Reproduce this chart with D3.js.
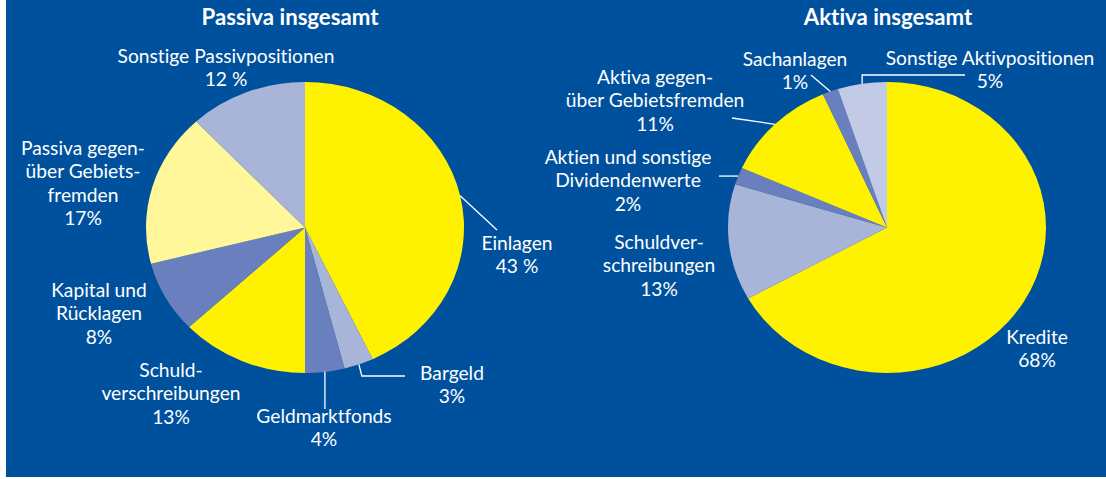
<!DOCTYPE html>
<html>
<head>
<meta charset="utf-8">
<script src="https://cdn.jsdelivr.net/npm/d3@7"></script>
<style>
  html, body { margin: 0; padding: 0; background: #fff; }
  svg { display: block; }
  text { font-family: Lato, "DejaVu Sans", sans-serif; fill: #fff; font-variant-ligatures: none; font-feature-settings: "liga" 0, "dlig" 0; }
</style>
</head>
<body>
<div id="chart"></div>
<script>
// Passiva insgesamt (shares clockwise from 12 o'clock)
const passivaCategories = ["Einlagen", "Bargeld", "Geldmarktfonds", "Schuldverschreibungen",
  "Kapital und Rücklagen", "Passiva gegenüber Gebietsfremden", "Sonstige Passivpositionen"];
const passivaShares = [43, 3, 4, 13, 8, 17, 12];
const passivaLabels = [
  ["Einlagen", "43 %"],
  ["Bargeld", "3%"],
  ["Geldmarktfonds", "4%"],
  ["Schuld-", "verschreibungen", "13%"],
  ["Kapital und", "Rücklagen", "8%"],
  ["Passiva gegen-", "über Gebiets-", "fremden", "17%"],
  ["Sonstige Passivpositionen", "12 %"]
];

// Aktiva insgesamt (shares)
const aktivaCategories = ["Kredite", "Schuldverschreibungen", "Aktien und sonstige Dividendenwerte",
  "Aktiva gegenüber Gebietsfremden", "Sachanlagen", "Sonstige Aktivpositionen"];
const aktivaShares = [66.9, 12.9, 1.9, 11.7, 1.6, 5.0];
const aktivaLabels = [
  ["Kredite", "68%"],
  ["Schuldver-", "schreibungen", "13%"],
  ["Aktien und sonstige", "Dividendenwerte", "2%"],
  ["Aktiva gegen-", "über Gebietsfremden", "11%"],
  ["Sachanlagen", "1%"],
  ["Sonstige Aktivpositionen", "5%"]
];

const titles = ["Passiva insgesamt", "Aktiva insgesamt"];

// styling
const yellow = "#fff200", paleYellow = "#fff799", lav = "#a9b4d9", mid = "#6a7fbd", lightLav = "#c3cae6";
const passivaColors = [yellow, lav, mid, yellow, mid, paleYellow, lav];
const aktivaColors = [yellow, lav, mid, yellow, mid, lightLav];

const W = 1106, H = 479;
const lineH = 23.3;

// label placement: [centre x, first baseline]; leader lines
const passivaLayout = [
  { at: [517, 250], leader: { type: "straight", to: [497, 230] } },
  { at: [452, 380], leader: { type: "elbow", y: 376, xEnd: 405 } },
  { at: [324, 423], leader: { type: "vertical", yEnd: 409 } },
  { at: [171, 377] },
  { at: [99, 297] },
  { at: [83, 155] },
  { at: [226, 63] }
];
const aktivaLayout = [
  { at: [1037, 344] },
  { at: [659, 249] },
  { at: [628, 164], leader: { type: "horizontal", xEnd: 719 } },
  { at: [655, 84], leader: { type: "straight", to: [732, 118] } },
  { at: [795, 66], leader: { type: "straight", to: [811, 75] } },
  { at: [990, 65], leader: { type: "elbow", y: 75, xEnd: 965 } }
];

const svg = d3.select("#chart").append("svg")
  .attr("width", W).attr("height", H);

svg.append("rect")
  .attr("x", 6).attr("y", 0)
  .attr("width", W - 6).attr("height", 477)
  .attr("fill", "#00519d");

// calibrate font size so the text width matches the reference
const probe = svg.append("text").attr("font-size", 100).text("Sonstige Passivpositionen");
const fs = 100 * 217 / probe.node().getComputedTextLength();
probe.attr("font-weight", "bold").text("Passiva insgesamt");
const tfs = 100 * 177 / probe.node().getComputedTextLength();
probe.remove();

const ry = 145.5, rx = 159;

function drawPie(cx, cy, shares, colors, labels, layout, title, titleX) {
  const g = svg.append("g");
  const pie = d3.pie().sort(null).value(d => d)(shares);
  const arc = d3.arc().innerRadius(0).outerRadius(ry);

  g.append("g")
    .attr("transform", `translate(${cx},${cy}) scale(${rx / ry},1)`)
    .selectAll("path").data(pie).enter()
    .append("path")
    .attr("d", arc)
    .attr("fill", (d, i) => colors[i]);

  g.append("text")
    .attr("x", titleX).attr("y", 25)
    .attr("text-anchor", "middle")
    .attr("font-weight", "bold")
    .attr("font-size", tfs)
    .text(title);

  pie.forEach((d, i) => {
    const lay = layout[i];
    const t = g.append("text")
      .attr("text-anchor", "middle")
      .attr("font-size", fs);
    labels[i].forEach((line, k) => {
      t.append("tspan")
        .attr("x", lay.at[0])
        .attr("y", lay.at[1] + k * lineH)
        .text(line);
    });

    if (lay.leader) {
      const a = (d.startAngle + d.endAngle) / 2;
      const sx = cx + Math.sin(a) * rx, sy = cy - Math.cos(a) * ry;
      const L = lay.leader;
      let pts;
      if (L.type === "straight") pts = [[sx, sy], L.to];
      else if (L.type === "vertical") pts = [[sx, sy], [sx, L.yEnd]];
      else if (L.type === "horizontal") pts = [[sx, sy], [L.xEnd, sy]];
      else pts = [[sx, sy], [sx + (L.y > sy ? 3 : 0), L.y], [L.xEnd, L.y]];
      g.append("path")
        .attr("d", d3.line()(pts))
        .attr("fill", "none")
        .attr("stroke", "#fff")
        .attr("stroke-width", 1.3);
    }
  });
}

drawPie(305, 227.5, passivaShares, passivaColors, passivaLabels, passivaLayout, titles[0], 290);
drawPie(887, 227.5, aktivaShares, aktivaColors, aktivaLabels, aktivaLayout, titles[1], 888);
</script>
</body>
</html>
